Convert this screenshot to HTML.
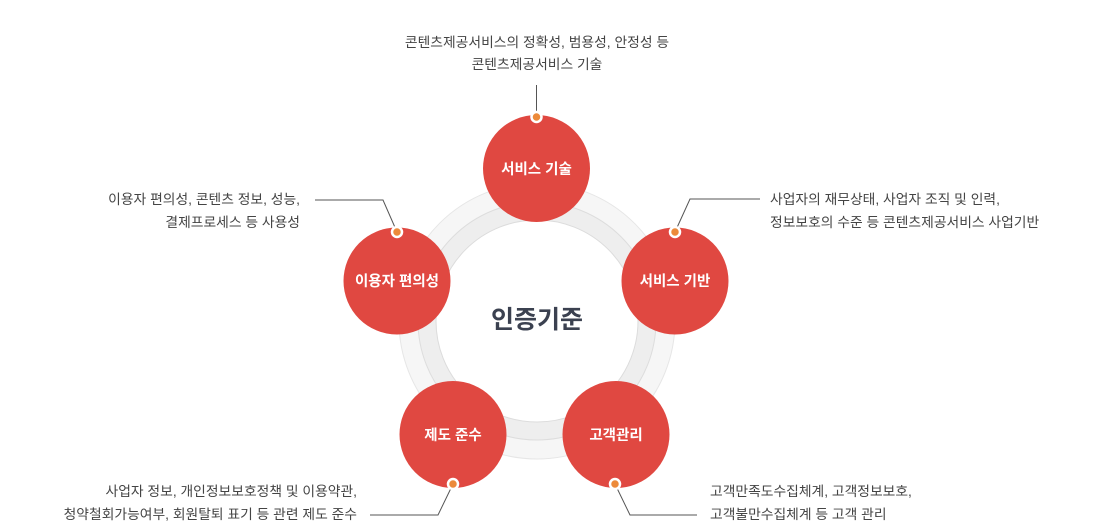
<!DOCTYPE html>
<html><head><meta charset="utf-8"><style>
html,body{margin:0;padding:0;background:#fff}
body{width:1100px;height:526px;overflow:hidden;position:relative;font-family:"Liberation Sans","Noto Sans CJK KR",sans-serif}
svg{position:absolute;left:0;top:0}
</style></head><body>
<svg width="1100" height="526" viewBox="0 0 1100 526" font-family="Liberation Sans, Noto Sans CJK KR, sans-serif">
<circle cx="537" cy="321" r="138" fill="#f6f6f6" stroke="#e6e6e6" stroke-width="1"/>
<circle cx="537" cy="321" r="119" fill="#eeeeee" stroke="#dddddd" stroke-width="1"/>
<circle cx="537" cy="321" r="101" fill="#ffffff" stroke="#dcdcdc" stroke-width="1"/>
<text x="537" y="328" text-anchor="middle" font-size="25" font-weight="bold" fill="#3b4150">인증기준</text>
<g stroke="#555" stroke-width="1" fill="none">
<line x1="536.5" y1="85" x2="536.5" y2="117"/>
<polyline points="397,232 383,200 315,200"/>
<polyline points="675,232 690,199 760,199"/>
<polyline points="453,484 438,515 370,515"/>
<polyline points="615,484 630,515 697,515"/>
</g>
<g fill="#e04841">
<circle cx="536.5" cy="168.5" r="53.5"/>
<circle cx="397" cy="281" r="53.5"/>
<circle cx="675" cy="281" r="53.5"/>
<circle cx="453" cy="434.5" r="53.5"/>
<circle cx="616" cy="434.5" r="53.5"/>
</g>
<g fill="#ec8a3a" stroke="#fff" stroke-width="2.5">
<circle cx="536.5" cy="117" r="5"/>
<circle cx="397" cy="232" r="5"/>
<circle cx="675" cy="232" r="5"/>
<circle cx="453" cy="484" r="5"/>
<circle cx="615" cy="484" r="5"/>
</g>
<g fill="#fff" font-size="14.5" font-weight="bold" text-anchor="middle">
<text x="536.5" y="174">서비스 기술</text>
<text x="397" y="286">이용자 편의성</text>
<text x="675" y="286">서비스 기반</text>
<text x="453" y="440">제도 준수</text>
<text x="616" y="440">고객관리</text>
</g>
<g fill="#444" font-size="13.8">
<text x="537" y="47" text-anchor="middle">콘텐츠제공서비스의 정확성, 범용성, 안정성 등</text>
<text x="537" y="69" text-anchor="middle">콘텐츠제공서비스 기술</text>
<text x="300" y="204" text-anchor="end">이용자 편의성, 콘텐츠 정보, 성능,</text>
<text x="300" y="227" text-anchor="end">결제프로세스 등 사용성</text>
<text x="770" y="204">사업자의 재무상태, 사업자 조직 및 인력,</text>
<text x="770" y="227">정보보호의 수준 등 콘텐츠제공서비스 사업기반</text>
<text x="357" y="496" text-anchor="end">사업자 정보, 개인정보보호정책 및 이용약관,</text>
<text x="357" y="519" text-anchor="end">청약철회가능여부, 회원탈퇴 표기 등 관련 제도 준수</text>
<text x="710" y="496">고객만족도수집체계, 고객정보보호,</text>
<text x="710" y="519">고객불만수집체계 등 고객 관리</text>
</g>
</svg>
</body></html>
